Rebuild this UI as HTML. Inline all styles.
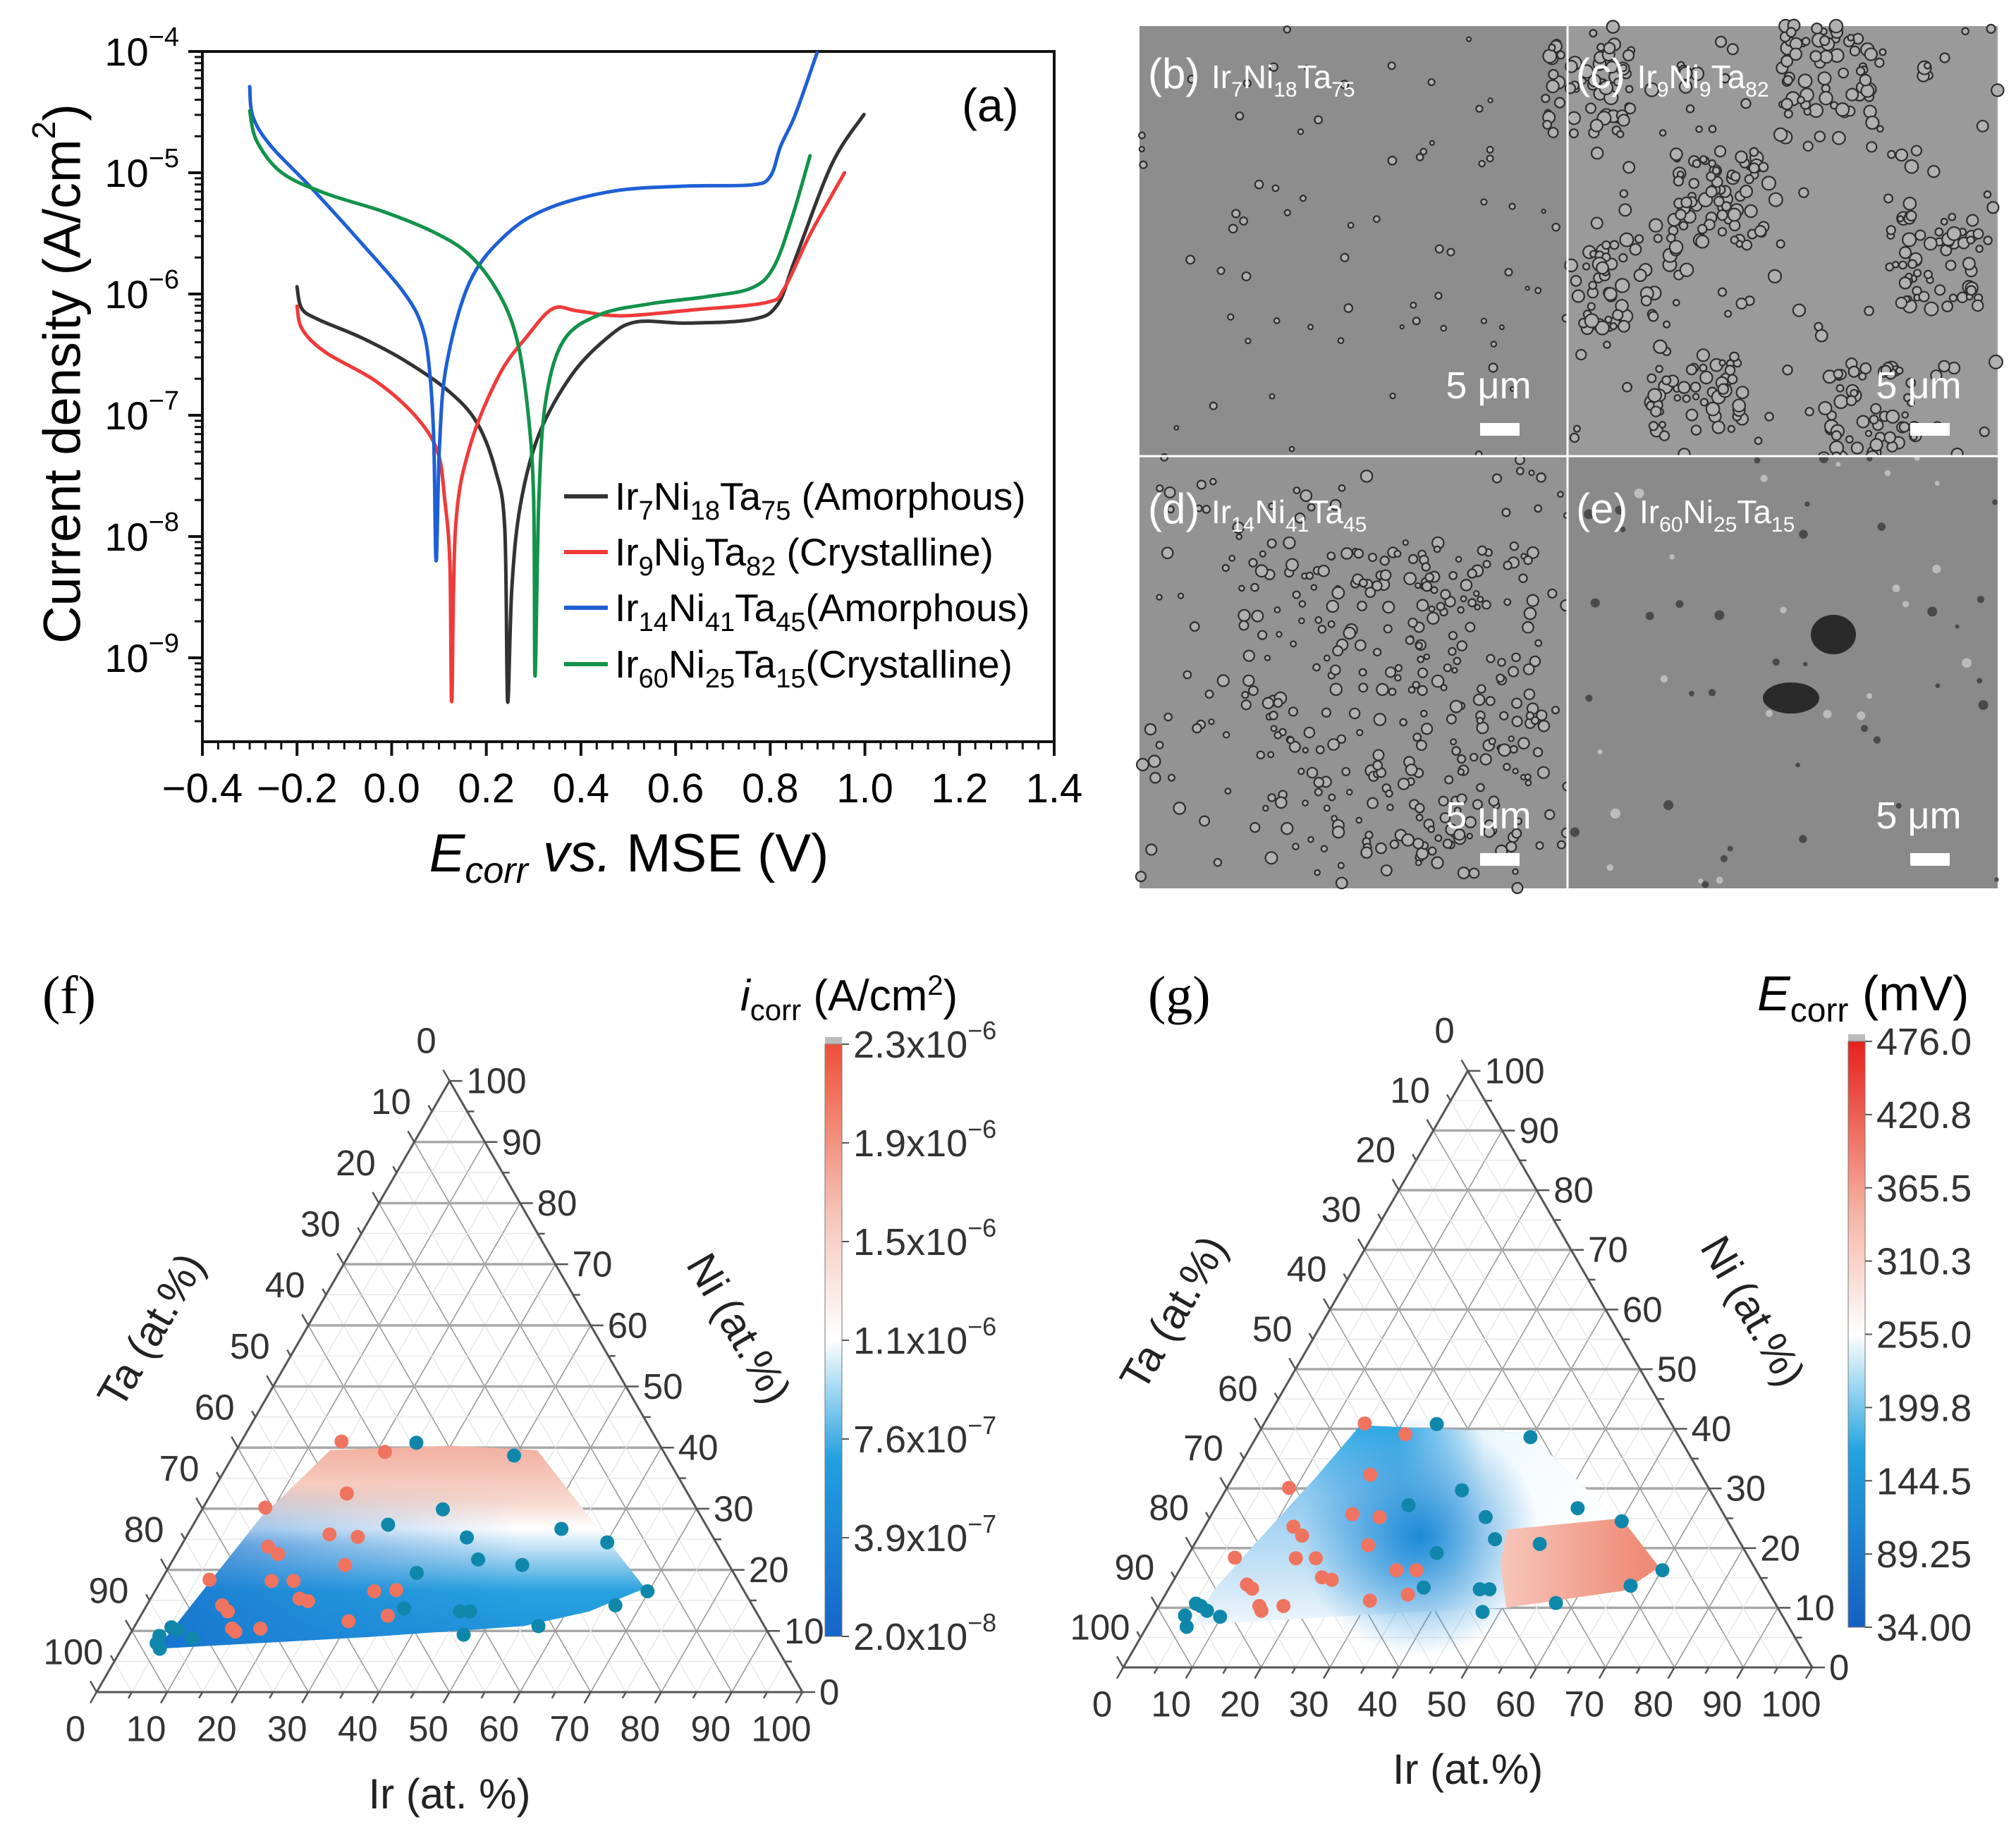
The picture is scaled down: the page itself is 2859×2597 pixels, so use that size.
<!DOCTYPE html>
<html><head><meta charset="utf-8"><title>Corrosion figure</title>
<style>
html,body{margin:0;padding:0;background:#fff;}
svg{display:block;font-family:"Liberation Sans",sans-serif;}
</style></head>
<body>
<svg id="fig" width="2859" height="2597" viewBox="0 0 2859 2597" xmlns="http://www.w3.org/2000/svg">
<defs>
  <linearGradient id="cbF" x1="0" y1="1" x2="0" y2="0">
    <stop offset="0" stop-color="#1565c8"/><stop offset="0.3" stop-color="#22a0e0"/>
    <stop offset="0.5" stop-color="#ffffff"/><stop offset="0.7" stop-color="#f6c9bd"/>
    <stop offset="1" stop-color="#ee5038"/>
  </linearGradient>
  <linearGradient id="cbG" x1="0" y1="1" x2="0" y2="0">
    <stop offset="0" stop-color="#1460c0"/><stop offset="0.3" stop-color="#22a3e0"/>
    <stop offset="0.5" stop-color="#ffffff"/><stop offset="0.7" stop-color="#f5b7a6"/>
    <stop offset="1" stop-color="#e8201a"/>
  </linearGradient>
</defs>

<g id="panelA">
  <text x="1364" y="172" font-size="66">(a)</text>
  <text transform="translate(88,530) rotate(-90)" text-anchor="middle" dominant-baseline="central" font-size="74">Current density (A/cm<tspan dy="-26" font-size="46">2</tspan><tspan dy="26">)</tspan></text>
  <text x="892" y="1236" text-anchor="middle" font-size="76"><tspan font-style="italic">E</tspan><tspan font-style="italic" font-size="52" dy="16">corr</tspan><tspan font-style="italic" dy="-16"> vs.</tspan> MSE (V)</text>
  <g id="legend" font-size="55">
    <g><line x1="800" y1="704" x2="862" y2="704" stroke="#333" stroke-width="6"/>
      <text x="872" y="723">Ir<tspan dy="14" font-size="38">7</tspan><tspan dy="-14">Ni</tspan><tspan dy="14" font-size="38">18</tspan><tspan dy="-14">Ta</tspan><tspan dy="14" font-size="38">75</tspan><tspan dy="-14"> (Amorphous)</tspan></text></g>
    <g><line x1="800" y1="783" x2="862" y2="783" stroke="#f03a3a" stroke-width="6"/>
      <text x="872" y="802">Ir<tspan dy="14" font-size="38">9</tspan><tspan dy="-14">Ni</tspan><tspan dy="14" font-size="38">9</tspan><tspan dy="-14">Ta</tspan><tspan dy="14" font-size="38">82</tspan><tspan dy="-14">  (Crystalline)</tspan></text></g>
    <g><line x1="800" y1="862" x2="862" y2="862" stroke="#1f5fd6" stroke-width="6"/>
      <text x="872" y="881">Ir<tspan dy="14" font-size="38">14</tspan><tspan dy="-14">Ni</tspan><tspan dy="14" font-size="38">41</tspan><tspan dy="-14">Ta</tspan><tspan dy="14" font-size="38">45</tspan><tspan dy="-14">(Amorphous)</tspan></text></g>
    <g><line x1="800" y1="942" x2="862" y2="942" stroke="#12924a" stroke-width="6"/>
      <text x="872" y="961">Ir<tspan dy="14" font-size="38">60</tspan><tspan dy="-14">Ni</tspan><tspan dy="14" font-size="38">25</tspan><tspan dy="-14">Ta</tspan><tspan dy="14" font-size="38">15</tspan><tspan dy="-14">(Crystalline)</tspan></text></g>
  </g>
</g>

<g id="sem"></g>

<g id="ternF">
  <text x="60" y="1437" font-family="Liberation Serif, serif" font-size="76">(f)</text>
  <text x="1050" y="1433" font-size="62"><tspan font-style="italic">i</tspan><tspan font-size="42" dy="14">corr</tspan><tspan dy="-14"> (A/cm</tspan><tspan dy="-22" font-size="40">2</tspan><tspan dy="22">)</tspan></text>
</g>
<g id="ternG">
  <text x="1628" y="1437" font-family="Liberation Serif, serif" font-size="76">(g)</text>
  <text x="2492" y="1433" font-size="70"><tspan font-style="italic">E</tspan><tspan font-size="48" dy="16">corr</tspan><tspan dy="-16"> (mV)</tspan></text>
</g>
</svg>

<script>
// ---------- Panel (a) data: E (V vs MSE) and log10(i) ----------
const seriesNames = ["Ir7Ni18Ta75", "Ir9Ni9Ta82", "Ir14Ni41Ta45", "Ir60Ni25Ta15"];
const blackE = [-0.20,-0.19,-0.155,-0.064,0.028,0.12,0.18,0.219,0.239,0.245,0.254,0.272,0.311,0.38,0.456,0.517,0.624,0.761,0.815,0.853,0.93,0.998];
const blackLog = [-5.94,-6.12,-6.21,-6.36,-6.55,-6.80,-7.06,-7.45,-7.93,-9.36,-8.42,-7.74,-7.16,-6.67,-6.36,-6.23,-6.24,-6.21,-6.09,-5.71,-4.93,-4.52];
const redE = [-0.20,-0.189,-0.14,-0.033,0.051,0.097,0.112,0.123,0.127,0.135,0.165,0.227,0.288,0.341,0.394,0.486,0.639,0.792,0.83,0.884,0.957];
const redLog = [-6.10,-6.29,-6.48,-6.72,-7.01,-7.30,-7.69,-8.22,-9.36,-7.93,-7.26,-6.67,-6.34,-6.12,-6.14,-6.18,-6.13,-6.07,-5.95,-5.51,-5.00];
const blueE = [-0.30,-0.293,-0.255,-0.171,-0.064,0.028,0.066,0.081,0.089,0.094,0.101,0.116,0.165,0.242,0.333,0.471,0.624,0.761,0.80,0.822,0.853,0.899];
const blueLog = [-4.29,-4.54,-4.78,-5.12,-5.58,-6.00,-6.29,-6.67,-7.21,-8.20,-7.26,-6.58,-5.90,-5.51,-5.29,-5.15,-5.11,-5.10,-5.03,-4.78,-4.52,-4.01];
const greenE = [-0.30,-0.285,-0.232,-0.14,-0.018,0.089,0.165,0.227,0.265,0.288,0.30,0.303,0.311,0.326,0.364,0.44,0.547,0.67,0.761,0.807,0.846,0.884];
const greenLog = [-4.49,-4.74,-5.00,-5.17,-5.32,-5.49,-5.68,-6.00,-6.38,-6.97,-7.69,-9.15,-7.69,-6.87,-6.38,-6.17,-6.08,-6.02,-5.95,-5.78,-5.37,-4.86];
const xTicks = [-0.4,-0.2,0.0,0.2,0.4,0.6,0.8,1.0,1.2,1.4];
const xTickLabels = ["\u22120.4","\u22120.2","0.0","0.2","0.4","0.6","0.8","1.0","1.2","1.4"];
const yTickExp = [-4,-5,-6,-7,-8,-9];

// ---------- Ternary data (Ir %, Ni %) ----------
const fRedIr = [14.2,21.2,19.2,8.8,20.1,24.3,12.4,14.4,24.8,6.8,15.7,18.8,21.1,22.5,31.1,34.1,10.7,12.0,14.0,14.7,18.0,29.9,35.0];
const fRedNi = [41.0,39.3,32.5,30.2,25.8,25.4,23.8,22.6,20.8,18.4,18.2,18.2,15.3,14.9,16.5,16.7,14.2,13.2,10.4,9.9,10.4,11.6,12.5];
const fBlueIr = [24.9,39.8,34.1,27.6,39.8,52.5,60.1,43.2,49.9,35.6,69.8,36.7,44.9,46.3,66.4,57.2,47.3,4.3,5.3,6.4,9.2,5.4,4.5];
const fBlueNi = [40.8,38.7,29.9,27.4,25.3,26.7,24.5,21.7,20.8,19.5,16.5,13.7,13.2,13.2,14.2,10.8,9.4,9.2,10.6,10.2,8.8,7.1,8.0];
const fRegionIr = [5.0,9.0,11.3,13.3,30.2,42.6,69.2,63.2,55.1,33.8];
const fRegionNi = [7.1,28.8,34.4,39.6,40.3,39.6,17.0,13.2,10.8,9.0];
const fCbLabels = ["2.3x10","1.9x10","1.5x10","1.1x10","7.6x10","3.9x10","2.0x10"];
const fCbExp = ["\u22126","\u22126","\u22126","\u22126","\u22127","\u22127","\u22128"];

const gRedIr = [14.6,21.4,19.7,9.0,20.4,24.6,12.9,14.9,25.3,7.0,15.9,18.8,21.3,22.9,31.5,34.4,11.0,12.1,14.6,15.3,18.1,30.2,35.2];
const gRedNi = [40.9,39.1,32.3,30.1,25.7,25.2,23.6,22.1,20.5,18.4,18.3,18.3,15.1,14.7,16.3,16.3,13.9,13.2,10.3,9.5,10.3,11.2,12.2];
const gBlueIr = [25.1,39.8,34.3,27.8,40.0,52.6,60.1,43.2,50.1,35.9,70.1,36.9,45.2,46.6,66.8,57.4,47.5,5.2,6.1,7.4,9.8,4.6,5.8];
const gBlueNi = [40.8,38.6,29.7,27.2,25.2,26.7,24.5,21.5,20.7,19.2,16.3,13.4,13.1,13.1,13.7,10.8,9.3,10.7,10.3,9.5,8.5,8.7,6.8];
const gRegionIr = [14.1,39.2,53.0,69.4,65.6,50.6,38.0,12.1,6.6,6.6,8.6,12.0];
const gRegionNi = [40.6,39.3,29.4,16.8,13.4,10.0,9.3,7.5,7.1,12.9,20.2,31.8];
const gPinkIr = [44.1,59.8,69.4,66.3,50.6,46.1];
const gPinkNi = [23.1,25.0,16.8,12.9,10.0,17.3];
const gCbLabels = ["476.0","420.8","365.5","310.3","255.0","199.8","144.5","89.25","34.00"];

const NS = "http://www.w3.org/2000/svg";
function mk(parent, tag, attrs) {
  const e = document.createElementNS(NS, tag);
  for (const k in attrs) e.setAttribute(k, attrs[k]);
  parent.appendChild(e);
  return e;
}

// ---------- Panel (a) ----------
const A = document.getElementById('panelA');
const PL = 287, PR = 1495, PT = 73, PB = 1052;
function xs(E) { return PL + (E + 0.4) / 1.8 * (PR - PL); }
function ys(lg) { return PT + (-4 - lg) * 172; }

const frame = mk(A, 'rect', {x: PL, y: PT, width: PR - PL, height: PB - PT, fill: 'none', stroke: '#111', 'stroke-width': 4});



for (let i = 0; i < xTicks.length; i++) {
  const x = xs(xTicks[i]);
  const t = mk(A, 'line', {x1: x, y1: PB, x2: x, y2: PB + 20, stroke: '#111', 'stroke-width': 4});
  
  
  const lb = mk(A, 'text', {x: x, y: 1138, 'text-anchor': 'middle', 'font-size': 58});
  lb.textContent = xTickLabels[i];
  
  
  if (i < xTicks.length - 1) {
    for (let k = 1; k < 6; k++) {
      const xm = xs(xTicks[i] + (xTicks[i + 1] - xTicks[i]) * k / 6);
      const m = mk(A, 'line', {x1: xm, y1: PB, x2: xm, y2: PB + 11, stroke: '#111', 'stroke-width': 3});
      
      
    }
  }
}
for (let i = 0; i < yTickExp.length; i++) {
  const y = ys(yTickExp[i]);
  const t = mk(A, 'line', {x1: PL - 20, y1: y, x2: PL, y2: y, stroke: '#111', 'stroke-width': 4});
  
  
  const lb = mk(A, 'text', {x: 254, y: y + 20, 'text-anchor': 'end', 'font-size': 56});
  lb.innerHTML = '10<tspan dy="-28" font-size="38">\u2212' + (-yTickExp[i]) + '</tspan>';
  
  
}
for (let d = -10; d < -4; d++) {
  for (let k = 2; k < 10; k++) {
    const y = ys(d + Math.log10(k));
    if (y < PT || y > PB) continue;
    const m = mk(A, 'line', {x1: PL - 11, y1: y, x2: PL, y2: y, stroke: '#111', 'stroke-width': 3});
    
    
  }
}
function drawSeries(E, L, color, name) {
  const P = E.map((e, i) => [xs(e), ys(L[i])]);
  let d = 'M' + P[0][0].toFixed(1) + ',' + P[0][1].toFixed(1);
  for (let i = 1; i < P.length; i++) {
    const p0 = P[Math.max(0, i - 2)], p1 = P[i - 1], p2 = P[i], p3 = P[Math.min(P.length - 1, i + 1)];
    const c1 = [p1[0] + (p2[0] - p0[0]) / 6, p1[1] + (p2[1] - p0[1]) / 6];
    const c2 = [p2[0] - (p3[0] - p1[0]) / 6, p2[1] - (p3[1] - p1[1]) / 6];
    d += 'C' + c1[0].toFixed(1) + ',' + c1[1].toFixed(1) + ' ' + c2[0].toFixed(1) + ',' + c2[1].toFixed(1) + ' ' + p2[0].toFixed(1) + ',' + p2[1].toFixed(1);
  }
  const p = mk(A, 'path', {d: d, fill: 'none', stroke: color, 'stroke-width': 5, 'stroke-linejoin': 'round', 'stroke-linecap': 'round'});
  
  
}
drawSeries(blackE, blackLog, '#333333', 'series-ir7ni18ta75');
drawSeries(redE, redLog, '#f03a3a', 'series-ir9ni9ta82');
drawSeries(blueE, blueLog, '#1f5fd6', 'series-ir14ni41ta45');
drawSeries(greenE, greenLog, '#12924a', 'series-ir60ni25ta15');

// ---------- SEM panels (decorative texture) ----------
const S = document.getElementById('sem');
let seed = 12345;
function rnd() { seed = (seed * 1103515245 + 12345) % 2147483648; return seed / 2147483648; }
const panels = [
  {x: 1616, y: 37, w: 607, h: 610, bg: '#8d8d8d', n: 70, r: 5, name: 'sem-b', lbl: ['(b) ', 'Ir', '7', 'Ni', '18', 'Ta', '75']},
  {x: 2223, y: 37, w: 610, h: 610, bg: '#9a9a9a', n: 520, r: 8, name: 'sem-c', lbl: ['(c) ', 'Ir', '9', 'Ni', '9', 'Ta', '82']},
  {x: 1616, y: 647, w: 607, h: 613, bg: '#939393', n: 380, r: 7, name: 'sem-d', lbl: ['(d) ', 'Ir', '14', 'Ni', '41', 'Ta', '45']},
  {x: 2223, y: 647, w: 610, h: 613, bg: '#8a8a8a', n: 60, r: 6, name: 'sem-e', lbl: ['(e) ', 'Ir', '60', 'Ni', '25', 'Ta', '15']}
];
const cClusters = [[0.35,0.4],[0.15,0.6],[0.6,0.1],[0.85,0.55],[0.3,0.85],[0.7,0.9],[0.05,0.15]];
panels.forEach((P, idx) => {
  const g = mk(S, 'g', {});
  
  
  mk(g, 'rect', {x: P.x, y: P.y, width: P.w, height: P.h, fill: P.bg});
  for (let i = 0; i < P.n; i++) {
    let cx = P.x + rnd() * P.w, cy = P.y + rnd() * P.h;
    if (idx === 1 && rnd() < 0.75) {
      const c = cClusters[Math.floor(rnd() * cClusters.length)];
      cx = P.x + P.w * (c[0] + (rnd() - 0.5) * 0.22); cy = P.y + P.h * (c[1] + (rnd() - 0.5) * 0.22);
    }
    if (idx === 2 && rnd() < 0.6) { cx = P.x + P.w * (0.3 + 0.65 * rnd()); cy = P.y + P.h * (0.2 + 0.75 * rnd()); }
    const r = P.r * (0.5 + rnd() * 0.7);
    if (idx === 3) mk(g, 'circle', {cx: cx, cy: cy, r: r, fill: rnd() < 0.5 ? '#3a3a3a' : '#c8c8c8', opacity: 0.8});
    else mk(g, 'circle', {cx: cx, cy: cy, r: r, fill: '#b0b0b0', stroke: '#2e2e2e', 'stroke-width': 2.2});
  }
  if (idx === 3) {
    mk(g, 'ellipse', {cx: 2600, cy: 900, rx: 32, ry: 28, fill: '#2a2a2a'});
    mk(g, 'ellipse', {cx: 2540, cy: 990, rx: 40, ry: 22, fill: '#2a2a2a'});
  }
  const tx = mk(g, 'text', {x: P.x + 12, y: P.y + (idx < 2 ? 88 : 95), fill: '#fff', 'font-size': 60});
  tx.innerHTML = P.lbl[0] + '<tspan font-size="46">' + P.lbl[1] + '</tspan><tspan font-size="30" dy="12">' + P.lbl[2] + '</tspan><tspan font-size="46" dy="-12">' + P.lbl[3] + '</tspan><tspan font-size="30" dy="12">' + P.lbl[4] + '</tspan><tspan font-size="46" dy="-12">' + P.lbl[5] + '</tspan><tspan font-size="30" dy="12">' + P.lbl[6] + '</tspan>';
  
  
  const sx = P.x + P.w - 112;
  const sb = mk(g, 'text', {x: sx, y: P.y + 528, 'text-anchor': 'middle', fill: '#fff', 'font-size': 54});
  sb.textContent = '5 \u03bcm';
  
  
  const bar = mk(g, 'rect', {x: sx - 28 + 16, y: P.y + 563, width: 56, height: 18, fill: '#fff'});
  
  
});
mk(S, 'line', {x1: 2223, y1: 37, x2: 2223, y2: 1260, stroke: '#fff', 'stroke-width': 3});
mk(S, 'line', {x1: 1616, y1: 647, x2: 2833, y2: 647, stroke: '#fff', 'stroke-width': 3});

// ---------- Ternary ----------
function makeTernary(G, T, id) {
  const H = T.w * Math.sqrt(3) / 2;
  function tp(ir, ni) { return [T.x0 + (ir + ni / 2) / 100 * T.w, T.y0 - ni / 100 * H]; }
  const defs = mk(G, 'defs', {});
  for (let v = 5; v < 100; v += 5) {
    const major = v % 10 === 0;
    const segs = [[tp(0, v), tp(100 - v, v)], [tp(v, 0), tp(v, 100 - v)], [tp(100 - v, 0), tp(0, 100 - v)]];
    segs.forEach((s, j) => {
      const col = major ? (j === 0 ? '#a8a8a8' : '#9a9a9a') : '#e2e2e2';
      const w = major ? (j === 0 ? 3.5 : 1.6) : 1.2;
      const l = mk(G, 'line', {x1: s[0][0], y1: s[0][1], x2: s[1][0], y2: s[1][1], stroke: col, 'stroke-width': w});
      
      
    });
  }
  const A0 = tp(0, 0), A1 = tp(100, 0), A2 = tp(0, 100);
  const tri = mk(G, 'polygon', {points: [A0, A1, A2].map(p => p.join(',')).join(' '), fill: 'none', stroke: '#555', 'stroke-width': 3});
  
  
  const c = Math.cos(Math.PI / 3), s = Math.sin(Math.PI / 3);
  for (let v = 0; v <= 100; v += 5) {
    const major = v % 10 === 0, L = major ? 18 : 10;
    let p = tp(0, 100 - v);
    mk(G, 'line', {x1: p[0], y1: p[1], x2: p[0] - c * L, y2: p[1] - s * L, stroke: '#555', 'stroke-width': 2.5});
    p = tp(100 - v, v);
    mk(G, 'line', {x1: p[0], y1: p[1], x2: p[0] + L, y2: p[1], stroke: '#555', 'stroke-width': 2.5});
    p = tp(v, 0);
    mk(G, 'line', {x1: p[0], y1: p[1], x2: p[0] - c * L, y2: p[1] + s * L, stroke: '#555', 'stroke-width': 2.5});
    if (!major) continue;
    p = tp(0, 100 - v);
    let t = mk(G, 'text', {x: p[0] - c * 66, y: p[1] - s * 66, 'text-anchor': 'middle', 'dominant-baseline': 'central', 'font-size': 51, fill: '#333'});
    t.textContent = v;
    
    
    p = tp(100 - v, v);
    t = mk(G, 'text', {x: p[0] + 24, y: p[1], 'text-anchor': 'start', 'dominant-baseline': 'central', 'font-size': 51, fill: '#333'});
    t.textContent = v;
    
    
    p = tp(v, 0);
    t = mk(G, 'text', {x: p[0] - c * 60, y: p[1] + s * 60, 'text-anchor': 'middle', 'dominant-baseline': 'central', 'font-size': 51, fill: '#333'});
    t.textContent = v;
    
    
  }
  let p = tp(0, 50);
  let t = mk(G, 'text', {x: 0, y: 0, 'text-anchor': 'middle', 'dominant-baseline': 'central', 'font-size': 60, fill: '#222', transform: 'translate(' + (p[0] - 0.866 * 200) + ',' + (p[1] - 0.5 * 200 + 20) + ') rotate(-60)'});
  t.textContent = 'Ta (at.%)';
  
  
  p = tp(50, 50);
  t = mk(G, 'text', {x: 0, y: 0, 'text-anchor': 'middle', 'dominant-baseline': 'central', 'font-size': 60, fill: '#222', transform: 'translate(' + (p[0] + 0.866 * 185) + ',' + (p[1] - 0.5 * 185 + 10) + ') rotate(60)'});
  t.textContent = 'Ni (at.%)';
  
  
  p = tp(50, 0);
  t = mk(G, 'text', {x: p[0], y: p[1] + 165, 'text-anchor': 'middle', 'font-size': 60, fill: '#222'});
  t.textContent = id === 'f' ? 'Ir (at. %)' : 'Ir (at.%)';
  
  
  return {tp: tp, defs: defs};
}
function poly(G, tp, irs, nis, fill, name) {
  const pts = irs.map((ir, i) => tp(ir, nis[i]).map(v => v.toFixed(1)).join(',')).join(' ');
  const e = mk(G, 'polygon', {points: pts, fill: fill});
  
  
  return e;
}
function dots(G, tp, irs, nis, color, name) {
  irs.forEach((ir, i) => {
    const p = tp(ir, nis[i]);
    const d = mk(G, 'circle', {cx: p[0], cy: p[1], r: 10, fill: color});
    
    
  });
}
function grad(defs, id, x1, y1, x2, y2, stops) {
  const g = mk(defs, 'linearGradient', {id: id, gradientUnits: 'userSpaceOnUse', x1: x1, y1: y1, x2: x2, y2: y2});
  stops.forEach(s => mk(g, 'stop', {offset: s[0], 'stop-color': s[1], 'stop-opacity': s[2] === undefined ? 1 : s[2]}));
}
function colorbar(G, x, y0, y1, gid, labels, exps, name) {
  mk(G, 'rect', {x: x, y: y0 - 10, width: 24, height: 10, fill: '#bbb'});
  const r = mk(G, 'rect', {x: x, y: y0, width: 24, height: y1 - y0, fill: 'url(#' + gid + ')', stroke: '#777', 'stroke-width': 1});
  
  
  const n = labels.length;
  for (let i = 0; i < n; i++) {
    const y = y0 + (y1 - y0) * i / (n - 1);
    mk(G, 'line', {x1: x + 24, y1: y, x2: x + 34, y2: y, stroke: '#555', 'stroke-width': 2});
    const t = mk(G, 'text', {x: x + 40, y: y + 19, 'font-size': 54, fill: '#333'});
    t.innerHTML = labels[i] + (exps ? '<tspan dy="-26" font-size="36">' + exps[i] + '</tspan>' : '');
    
    
  }
}

// Panel f
const GF = document.getElementById('ternF');
const TF = makeTernary(GF, {x0: 137, y0: 2400, w: 1001}, 'f');
{
  const top = TF.tp(0, 41)[1], bot = TF.tp(0, 7)[1];
  grad(TF.defs, 'fV', 0, top, 0, bot, [[0, '#f2ad9c'], [0.28, '#f7d6cc'], [0.42, '#ffffff'], [0.55, '#a7d5f1'], [0.72, '#27a2df'], [1, '#1e8fdb']]);
  const l = TF.tp(5, 0)[0], rgt = TF.tp(60, 0)[0];
  grad(TF.defs, 'fH', l, 0, rgt, 0, [[0, '#1468c8', 0.8], [0.45, '#1a78d2', 0.45], [1, '#1a78d2', 0]]);
  grad(TF.defs, 'fMg', 0, TF.tp(0, 34)[1], 0, TF.tp(0, 24)[1], [[0, '#000'], [1, '#fff']]);
  const m = mk(TF.defs, 'mask', {id: 'fMask', maskUnits: 'userSpaceOnUse', x: 0, y: 1300, width: 1400, height: 1300});
  mk(m, 'rect', {x: 0, y: 1300, width: 1400, height: 1300, fill: 'url(#fMg)'});
  poly(GF, TF.tp, fRegionIr, fRegionNi, 'url(#fV)', 'icorr-surface');
  const sh = poly(GF, TF.tp, fRegionIr, fRegionNi, 'url(#fH)', 'icorr-surface-shade');
  sh.setAttribute('mask', 'url(#fMask)');
}
dots(GF, TF.tp, fRedIr, fRedNi, '#f0735f', 'sample-point-red');
dots(GF, TF.tp, fBlueIr, fBlueNi, '#0f87ab', 'sample-point-blue');
colorbar(GF, 1170, 1481, 2321, 'cbF', fCbLabels, fCbExp, 'colorbar-icorr');

// Panel g
const GG = document.getElementById('ternG');
const TG = makeTernary(GG, {x0: 1593, y0: 2365, w: 977}, 'g');
{
  const top = TG.tp(0, 41)[1], bot = TG.tp(0, 7)[1];
  grad(TG.defs, 'gV', 0, top, 0, bot, [[0, '#2aa7e4'], [0.35, '#8fcaf0'], [0.75, '#c9e4f6'], [1, '#eef6fc']]);
  const l = TG.tp(40, 0)[0], rgt = TG.tp(75, 0)[0];
  grad(TG.defs, 'gW', l, 0, rgt, 0, [[0, '#ffffff', 0], [0.35, '#ffffff', 0.9], [1, '#ffffff', 1]]);
  const pl = TG.tp(45, 0)[0], pr = TG.tp(75, 0)[0];
  grad(TG.defs, 'gP', pl, 0, pr, 0, [[0, '#fbe3dc'], [1, '#ef8c77']]);
  poly(GG, TG.tp, gRegionIr, gRegionNi, 'url(#gV)', 'ecorr-surface');
  poly(GG, TG.tp, gRegionIr, gRegionNi, 'url(#gW)', 'ecorr-surface-white');
  const c = TG.tp(32, 22);
  const rg = mk(TG.defs, 'radialGradient', {id: 'gR', gradientUnits: 'userSpaceOnUse', cx: c[0], cy: c[1], r: 170});
  mk(rg, 'stop', {offset: 0, 'stop-color': '#1486d6', 'stop-opacity': 0.95});
  mk(rg, 'stop', {offset: 1, 'stop-color': '#1486d6', 'stop-opacity': 0});
  const blob = mk(GG, 'circle', {cx: c[0], cy: c[1], r: 170, fill: 'url(#gR)'});
  
  
  poly(GG, TG.tp, gPinkIr, gPinkNi, 'url(#gP)', 'ecorr-high-region');
}
dots(GG, TG.tp, gRedIr, gRedNi, '#f0735f', 'sample-point-red');
dots(GG, TG.tp, gBlueIr, gBlueNi, '#0f87ab', 'sample-point-blue');
colorbar(GG, 2621, 1477, 2308, 'cbG', gCbLabels, null, 'colorbar-ecorr');
</script>
</body></html>
